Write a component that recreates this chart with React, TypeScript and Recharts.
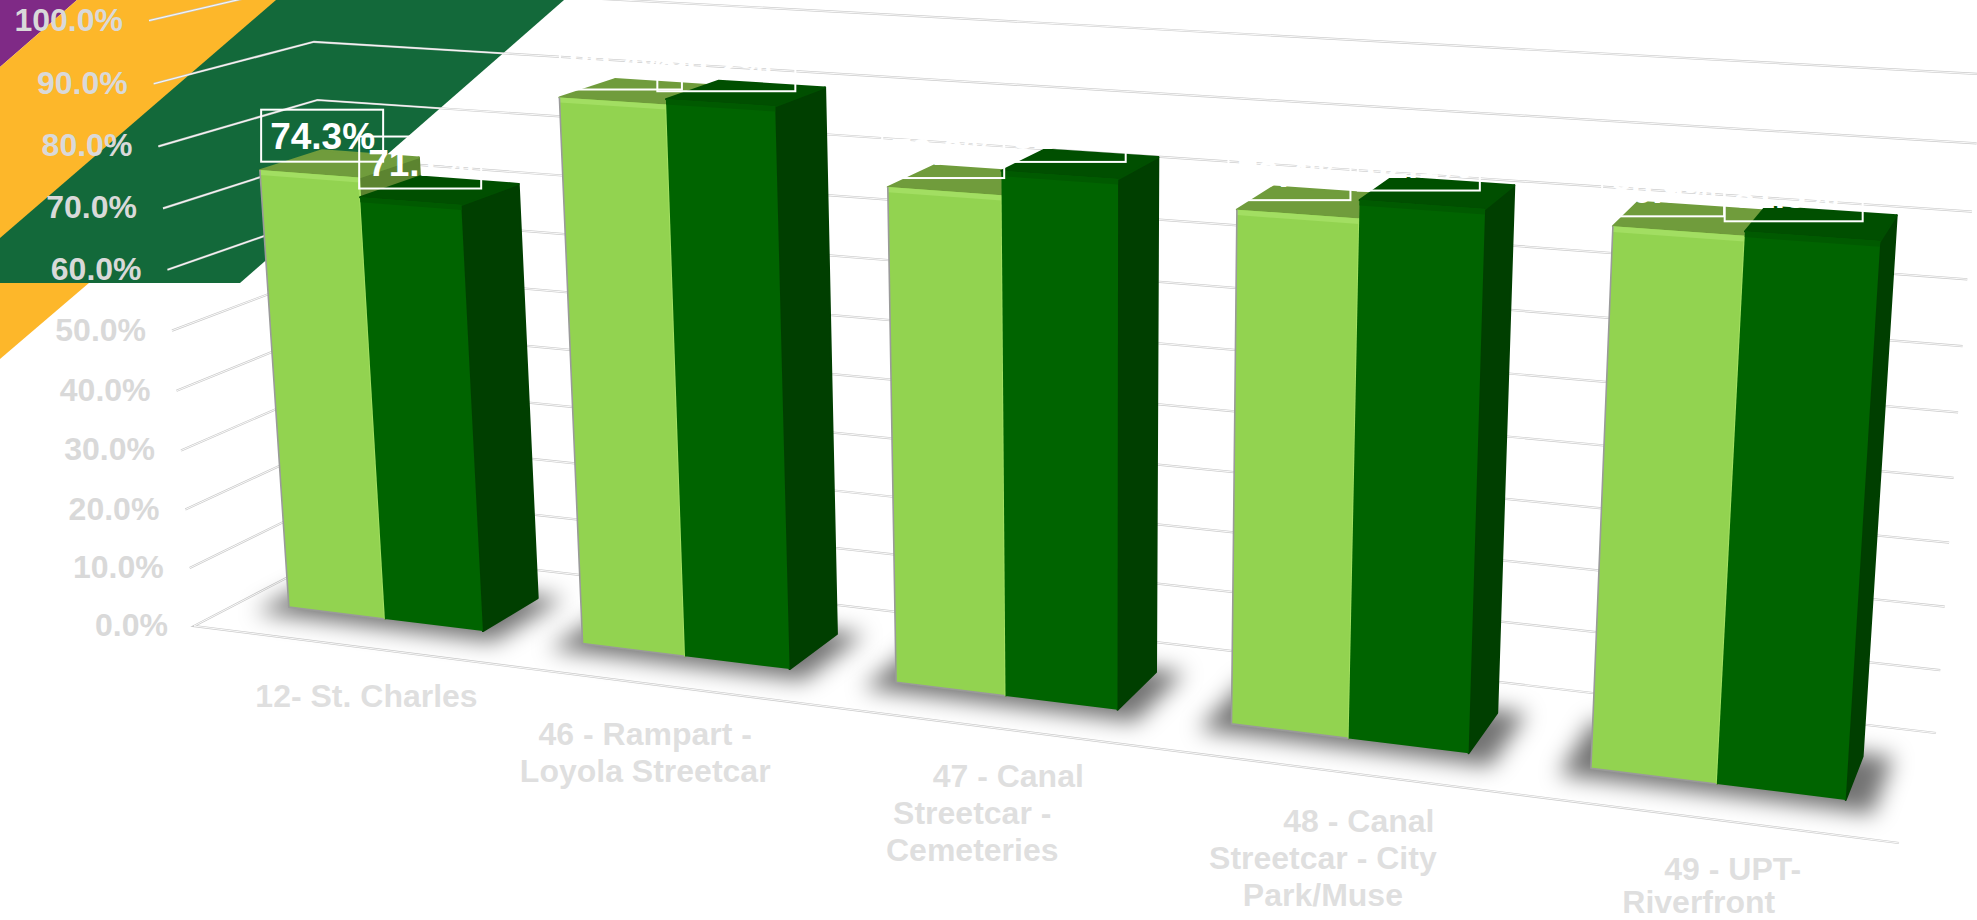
import React from 'react'
import { BarChart, Bar, XAxis, YAxis, CartesianGrid, LabelList } from 'recharts'

// Values per route, in percent
const categories = ['12- St. Charles', '46 - Rampart - Loyola Streetcar', '47 - Canal Streetcar - Cemeteries', '48 - Canal Streetcar - City Park/Muse', '49 - UPT- Riverfront']
const seriesLight = [74.3, 89.4, 79.0, 79.4, 80.9]
const seriesDark = [71.1, 90.2, 82.7, 82.1, 81.5]
const percentTicks = [0, 10, 20, 30, 40, 50, 60, 70, 80, 90, 100]

// How each category label wraps, and how far each line sits from the label's centre
const tickLines = [
    ['12- St. Charles'],
    ['46 - Rampart -', 'Loyola Streetcar'],
    ['47 - Canal', 'Streetcar -', 'Cemeteries'],
    ['48 - Canal', 'Streetcar - City', 'Park/Muse'],
    ['49 - UPT-', 'Riverfront'],
]
const tickShift = [[27], [0, 0], [36, 0, 0], [36, 0, 0], [33, -1]]

// Hand placement of the value boxes, per route
const lightBoxShift = [2, 1, -4, -6, -7]
const darkBoxShift = [0, 8, 4, 1, 0]
const darkBoxWidth = [122, 138, 122, 122, 138]

const rows = categories.map((name, i) => ({ name, light: seriesLight[i], dark: seriesDark[i] }))

const WIDTH = 1977
const HEIGHT = 920

// Depth of the bars on the floor, 0 = front edge, 1 = back wall
const BAR_FRONT = 0.3
const BAR_BACK = 0.7

// Floor corners on screen and the point the verticals converge to
const FLOOR = { fl: [194, 626], fr: [1899, 843], br: [1936, 733], bl: [345, 547.6] }
const VANISH = [1102, 12842]
const TOP_LEFT = 149

function buildCamera() {
    const { fl, fr, br, bl } = FLOOR
    const dx1 = fr[0] - br[0], dx2 = bl[0] - br[0], sx = fl[0] - fr[0] + br[0] - bl[0]
    const dy1 = fr[1] - br[1], dy2 = bl[1] - br[1], sy = fl[1] - fr[1] + br[1] - bl[1]
    const det = dx1 * dy2 - dx2 * dy1
    const g = (sx * dy2 - dx2 * sy) / det
    const h = (dx1 * sy - sx * dy1) / det
    const k = (TOP_LEFT - fl[0]) / (VANISH[0] - TOP_LEFT)
    return {
        a: fr[0] - fl[0] + g * fr[0], b: bl[0] - fl[0] + h * bl[0], c: fl[0],
        d: fr[1] - fl[1] + g * fr[1], e: bl[1] - fl[1] + h * bl[1], f: fl[1],
        g, h, qx: k * VANISH[0], qy: k * VANISH[1], qw: k,
    }
}
const cam = buildCamera()

// u along the categories, v into the depth, z up the value axis (all 0..1)
function project(u: number, v: number, z: number): [number, number] {
    const w = cam.g * u + cam.h * v + 1 + cam.qw * z
    return [
        (cam.a * u + cam.b * v + cam.c + cam.qx * z) / w,
        (cam.d * u + cam.e * v + cam.f + cam.qy * z) / w,
    ]
}

const pts = (list: [number, number][]) => list.map(p => p[0].toFixed(1) + ',' + p[1].toFixed(1)).join(' ')

function Grid3D(props: any) {
    const z = 1 - props.y1 / HEIGHT
    const path: [number, number][] = z < 0.001
        ? [project(1, 1, z), project(0, 1, z), project(0, 0, z), project(1, 0, z)]
        : [project(0, 0, z), project(0, 1, z), project(1, 1, z)]
    return (
        <g key={props.key}>
            <polyline points={pts(path)} fill="none" stroke="#C9C9C9" strokeWidth={2.2} />
            <polyline points={pts(path)} fill="none" stroke="#FFFFFF" strokeWidth={0.9} />
        </g>
    )
}

function FloorShadow(props: any) {
    const u0 = props.x / WIDTH - 0.014
    const u1 = (props.x + props.width) / WIDTH + 0.016
    const corners = [project(u0, BAR_FRONT - 0.09, 0), project(u1, BAR_FRONT - 0.09, 0), project(u1, BAR_BACK + 0.03, 0), project(u0, BAR_BACK + 0.03, 0)]
    return <polygon points={pts(corners)} fill="#000000" fillOpacity={0.55} style={{ filter: 'blur(11px)' }} />
}

function makeBar3D(colors: { front: string; top: string; side: string; rim: string; edge?: string }) {
    return function Bar3D(props: any) {
        const u0 = props.x / WIDTH
        const u1 = (props.x + props.width) / WIDTH
        const z = 1 - props.y / HEIGHT
        const f0 = project(u0, BAR_FRONT, 0), f1 = project(u1, BAR_FRONT, 0)
        const t0 = project(u0, BAR_FRONT, z), t1 = project(u1, BAR_FRONT, z)
        const b0 = project(u0, BAR_BACK, z), b1 = project(u1, BAR_BACK, z)
        const s1 = project(u1, BAR_BACK, 0)
        const r0 = project(u0, BAR_FRONT, z - 0.008), r1 = project(u1, BAR_FRONT, z - 0.008)
        return (
            <g strokeLinejoin="round">
                <polygon points={pts([f1, s1, b1, t1])} fill={colors.side} stroke={colors.side} strokeWidth={2} />
                <polygon points={pts([t0, t1, b1, b0])} fill={colors.top} stroke={colors.top} strokeWidth={2} />
                <polygon points={pts([f0, f1, t1, t0])} fill={colors.front} />
                <polygon points={pts([t0, t1, r1, r0])} fill={colors.rim} />
                {colors.edge && <polyline points={pts([t0, f0, f1])} fill="none" stroke={colors.edge} strokeWidth={1.6} />}
                {colors.edge && <line x1={f1[0]} y1={f1[1]} x2={t1[0]} y2={t1[1]} stroke="#A4E062" strokeWidth={2} />}
            </g>
        )
    }
}

const LightBar = makeBar3D({ front: '#92D350', top: '#709C3C', side: '#5C8430', rim: '#A2DE62', edge: '#9A9A9A' })
const DarkBar = makeBar3D({ front: '#006400', top: '#004F00', side: '#003F00', rim: '#005A00' })

// Boxed value labels in white, sitting above the bar's top face
function makeValueLabel(shift: number[], widths: number[]) {
    return function ValueLabel(props: any) {
        const { viewBox, value, index } = props
        const u = (viewBox.x + viewBox.width / 2) / WIDTH
        const z = 1 - viewBox.y / HEIGHT
        const [cx, cy] = project(u, (BAR_FRONT + BAR_BACK) / 2, z)
        const boxWidth = widths[index]
        const left = cx + 41 - boxWidth + shift[index]
        const top = cy - 54
        return (
            <g>
                <rect x={left} y={top} width={boxWidth} height={52} fill="none" stroke="#FFFFFF" strokeWidth={2} />
                <text x={left + 9} y={top + 39} fontFamily="Liberation Sans" fontWeight={700} fontSize={37} fill="#FFFFFF">
                    {Number(value).toFixed(1)}%
                </text>
            </g>
        )
    }
}

const LightLabel = makeValueLabel(lightBoxShift, [122, 122, 122, 122, 122])
const DarkLabel = makeValueLabel(darkBoxShift, darkBoxWidth)

function PercentTick(props: any) {
    const z = 1 - props.y / HEIGHT
    const [x, y] = project(0, 0, z)
    return (
        <text x={x - 26} y={y + 10} textAnchor="end" fontFamily="Liberation Sans" fontWeight={700} fontSize={32} fill="#D9D9D9">
            {Number(props.payload.value).toFixed(1)}%
        </text>
    )
}

function RouteTick(props: any) {
    const [x, y] = project(props.x / WIDTH, 0, 0)
    const i = props.index
    return (
        <g>
            {tickLines[i].map((line, n) => (
                <text key={line} x={x + tickShift[i][n]} y={Math.min(y + 62 + n * 37, 913)} textAnchor="middle" fontFamily="Liberation Sans" fontWeight={700} fontSize={32} fill="#DFDFDF">
                    {line}
                </text>
            ))}
        </g>
    )
}

export default function App() {
    return (
        <div style={{ position: 'absolute', left: 0, top: 0, width: WIDTH, height: HEIGHT, overflow: 'hidden', background: '#FFFFFF' }}>
            <svg width={WIDTH} height={HEIGHT} style={{ position: 'absolute', left: 0, top: 0 }}>
                <polygon points="0,0 77,0 0,67" fill="#7F2A86" />
                <polygon points="77,0 420,0 0,359 0,67" fill="#FDB72A" />
                <polygon points="276,0 564,0 240,283 0,283 0,238" fill="#13693A" />
            </svg>
            <div style={{ position: 'absolute', left: 0, top: 0 }}>
                <BarChart width={WIDTH} height={HEIGHT} data={rows} margin={{ top: 0, right: 0, bottom: 0, left: 0 }} barCategoryGap="16.7%" barGap={0}>
                    <CartesianGrid vertical={false} horizontal={Grid3D} />
                    <XAxis dataKey="name" mirror height={30} interval={0} axisLine={false} tickLine={false} tick={RouteTick} />
                    <XAxis xAxisId="floor" dataKey="name" hide />
                    <YAxis mirror width={60} domain={[0, 100]} ticks={percentTicks} interval={0} axisLine={false} tickLine={false} tick={PercentTick} />
                    <Bar xAxisId="floor" dataKey="light" shape={FloorShadow} isAnimationActive={false} />
                    <Bar dataKey="light" shape={LightBar} isAnimationActive={false}>
                        <LabelList dataKey="light" content={LightLabel} />
                    </Bar>
                    <Bar dataKey="dark" shape={DarkBar} isAnimationActive={false}>
                        <LabelList dataKey="dark" content={DarkLabel} />
                    </Bar>
                </BarChart>
            </div>
        </div>
    )
}
